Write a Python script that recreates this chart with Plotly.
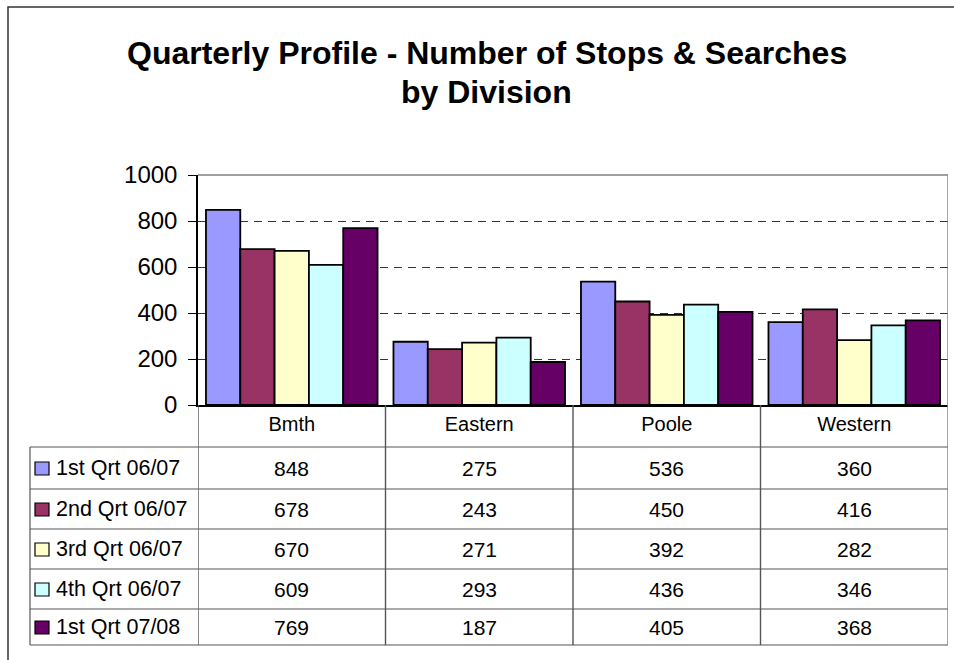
import plotly.graph_objects as go

# ---------------- data ----------------
divisions = ["Bmth", "Eastern", "Poole", "Western"]
series_names = ["1st Qrt 06/07", "2nd Qrt 06/07", "3rd Qrt 06/07", "4th Qrt 06/07", "1st Qrt 07/08"]
q1_0607 = [848, 275, 536, 360]
q2_0607 = [678, 243, 450, 416]
q3_0607 = [670, 271, 392, 282]
q4_0607 = [609, 293, 436, 346]
q1_0708 = [769, 187, 405, 368]
y_ticks = [0, 200, 400, 600, 800, 1000]
title_lines = ["Quarterly Profile - Number of Stops & Searches", "by Division"]

series_values = [q1_0607, q2_0607, q3_0607, q4_0607, q1_0708]
colors = ["#9999FF", "#993366", "#FFFFCC", "#CCFFFF", "#660066"]

# ---------------- layout helpers (pixel -> paper) ----------------
W, H = 954, 660
FONT = "Arial, 'Liberation Sans', sans-serif"


def px(x):
    return x / W


def py(y):
    return 1 - y / H


plot_left, plot_right, plot_top, plot_bottom = 198, 948, 175, 405
table_left = 30
row_edges = [447, 489, 529, 569, 609, 645]
TABLE_LINE = "#555555"
BORDER_GRAY = "#808080"

fig = go.Figure()
for name, vals, col in zip(series_names, series_values, colors):
    fig.add_trace(go.Bar(
        x=divisions, y=vals, name=name,
        marker=dict(color=col, line=dict(color="black", width=1.8)),
        showlegend=False,
    ))

shapes = []
annotations = []

# outer chart border
shapes.append(dict(type="rect", xref="paper", yref="paper",
                   x0=px(8), x1=px(970), y0=py(680), y1=py(7),
                   line=dict(color="#333333", width=1.5), layer="below"))

# plot area top border
shapes.append(dict(type="line", xref="paper", yref="paper",
                   x0=px(plot_left), x1=px(plot_right), y0=py(plot_top), y1=py(plot_top),
                   line=dict(color=BORDER_GRAY, width=1.5)))

# table horizontal lines
for r in row_edges:
    shapes.append(dict(type="line", xref="paper", yref="paper",
                       x0=px(table_left), x1=px(plot_right), y0=py(r), y1=py(r),
                       line=dict(color=TABLE_LINE, width=1.2)))
# table left edge
shapes.append(dict(type="line", xref="paper", yref="paper",
                   x0=px(table_left), x1=px(table_left), y0=py(row_edges[0]), y1=py(row_edges[-1]),
                   line=dict(color=TABLE_LINE, width=1.2)))
# category boundaries (through category row and table)
n = len(divisions)
for k in range(n + 1):
    xb = k - 0.5
    top = plot_top if k == n else plot_bottom
    shapes.append(dict(type="line", xref="x", yref="paper",
                       x0=xb, x1=xb, y0=py(row_edges[-1]), y1=py(top),
                       line=dict(color=BORDER_GRAY if k == n else TABLE_LINE, width=1.4)))

# table rows: legend key, series label, values
for i, (name, vals, col) in enumerate(zip(series_names, series_values, colors)):
    yc = (row_edges[i] + row_edges[i + 1]) / 2
    shapes.append(dict(type="rect", xref="paper", yref="paper",
                       x0=px(35), x1=px(49), y0=py(yc + 7), y1=py(yc - 6),
                       fillcolor=col, line=dict(color="black", width=1.2)))
    annotations.append(dict(x=px(54), y=py(yc), xref="paper", yref="paper",
                            text=name, showarrow=False, xanchor="left", yanchor="middle",
                            font=dict(family=FONT, size=21.5, color="black")))
    for j, v in enumerate(vals):
        annotations.append(dict(x=j, y=py(yc), xref="x", yref="paper",
                                text=str(v), showarrow=False, xanchor="center", yanchor="middle",
                                font=dict(family=FONT, size=21, color="black")))

# title
for t, yc in zip(title_lines, [53, 92]):
    annotations.append(dict(x=px(487), y=py(yc), xref="paper", yref="paper",
                            text="<b>" + t + "</b>", showarrow=False,
                            xanchor="center", yanchor="middle",
                            font=dict(family=FONT, size=32, color="black")))

fig.update_layout(
    width=W, height=H,
    margin=dict(l=0, r=0, t=0, b=0, autoexpand=False),
    paper_bgcolor="white", plot_bgcolor="white",
    barmode="group", bargap=0.085, bargroupgap=0,
    shapes=shapes, annotations=annotations,
    font=dict(family=FONT, color="black"),
    xaxis=dict(domain=[px(plot_left), px(plot_right)], range=[-0.5, n - 0.5],
               automargin=False,
               showline=True, linecolor="black", linewidth=1.5,
               showgrid=False, ticks="", ticklabelstandoff=0,
               tickfont=dict(family=FONT, size=20, color="black"), fixedrange=True),
    yaxis=dict(domain=[py(plot_bottom), py(plot_top)], range=[0, 1000],
               automargin=False,
               tickvals=y_ticks, ticktext=[str(v) for v in y_ticks],
               showline=True, linecolor="black", linewidth=1.5,
               ticks="outside", ticklen=8, tickcolor="black", tickwidth=1.2,
               ticklabelstandoff=6,
               showgrid=True, gridcolor="#333333", gridwidth=1, griddash="8px,6px",
               zeroline=False,
               tickfont=dict(family=FONT, size=24, color="black"), fixedrange=True),
)

fig.write_html(
    "out.html",
    config={"displayModeBar": False},
    post_script="document.body.style.margin='0px';document.body.style.overflow='hidden';",
)
